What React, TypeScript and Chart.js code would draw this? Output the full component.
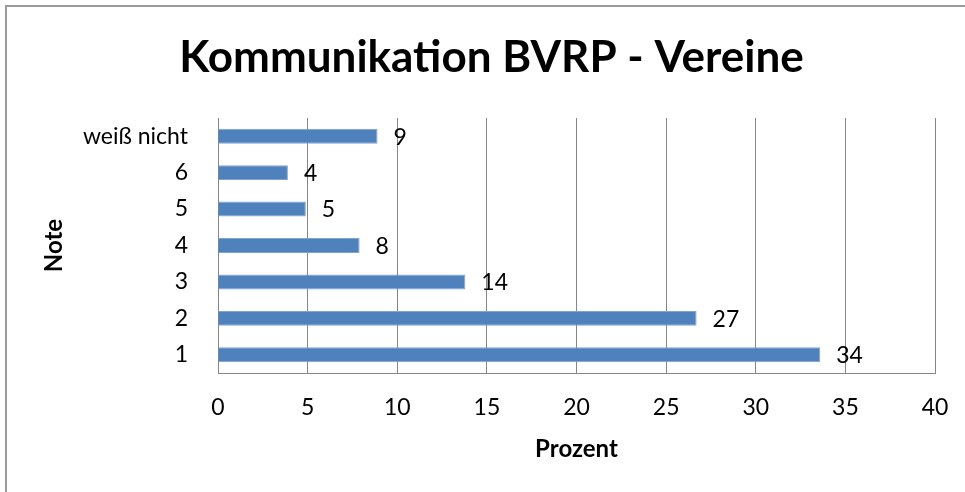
import React, { useEffect, useRef } from "react";
import { Chart, registerables } from "chart.js";

Chart.register(...registerables);

const categories = ["weiß nicht", "6", "5", "4", "3", "2", "1"];
const values = [8.9, 3.9, 4.9, 7.9, 13.8, 26.7, 33.6];
const valueLabels = ["9", "4", "5", "8", "14", "27", "34"];
const xTicks = [0, 5, 10, 15, 20, 25, 30, 35, 40];
const titleText = "Kommunikation BVRP - Vereine";
const xTitle = "Prozent";
const yTitle = "Note";

const FONT = "Lato";
const GRID = "#868686";

export default function App() {
  const ref = useRef<HTMLCanvasElement | null>(null);

  useEffect(() => {
    document.body.style.margin = "0";
    const canvas = ref.current;
    if (!canvas) return;

    const framePlugin = {
      id: "frame",
      beforeDraw(chart: any) {
        const ctx = chart.ctx;
        ctx.save();
        ctx.fillStyle = "#ffffff";
        ctx.fillRect(0, 0, chart.width, chart.height);
        ctx.strokeStyle = "#9a9a9a";
        ctx.lineWidth = 2;
        ctx.strokeRect(6, 6, chart.width + 20, chart.height + 20);
        ctx.fillStyle = "#000";
        ctx.font = `bold 44px ${FONT}`;
        ctx.textAlign = "center";
        ctx.textBaseline = "alphabetic";
        ctx.fillText(titleText, 491.5, 72);
        ctx.restore();
      },
    };

    const valuePlugin = {
      id: "values",
      afterDatasetsDraw(chart: any) {
        const ctx = chart.ctx;
        const meta = chart.getDatasetMeta(0);
        ctx.save();
        ctx.fillStyle = "#000";
        ctx.font = `23px ${FONT}`;
        ctx.textAlign = "left";
        ctx.textBaseline = "middle";
        meta.data.forEach((bar: any, i: number) => {
          ctx.fillText(valueLabels[i], bar.x + 16, bar.y + 1);
        });
        ctx.restore();
      },
    };

    const chart = new Chart(canvas, {
      type: "bar",
      data: {
        labels: categories,
        datasets: [
          {
            data: values,
            backgroundColor: "#4F81BD",
            borderColor: "#7FA3D0",
            borderWidth: 1,
            categoryPercentage: 1,
            barPercentage: 0.41,
          },
        ],
      },
      options: {
        indexAxis: "y",
        responsive: false,
        animation: false,
        layout: { padding: { top: 118, right: 30, left: 0, bottom: 0 } },
        plugins: {
          legend: { display: false },
          tooltip: { enabled: false },
          title: { display: false },
        },
        scales: {
          x: {
            min: 0,
            max: 40,
            afterFit(scale: any) {
              scale.height = 119;
              scale.paddingLeft = 0;
              scale.paddingRight = 0;
            },
            afterBuildTicks(scale: any) {
              scale.ticks = xTicks.map((v) => ({ value: v }));
            },
            grid: { display: true, color: GRID, lineWidth: 1, drawTicks: false },
            border: { display: true, color: GRID, width: 1 },
            ticks: {
              color: "#000",
              font: { family: FONT, size: 23 },
              padding: 21,
              maxRotation: 0,
            },
            title: {
              display: true,
              text: xTitle,
              color: "#000",
              font: { family: FONT, size: 24, weight: "bold" },
              padding: { top: 0, bottom: 28 },
            },
          },
          y: {
            afterFit(scale: any) {
              scale.width = 218;
              scale.paddingTop = 0;
              scale.paddingBottom = 0;
            },
            grid: { display: false, drawTicks: false },
            border: { display: true, color: GRID, width: 1 },
            ticks: {
              color: "#000",
              font: { family: FONT, size: 23 },
              padding: 30,
            },
            title: {
              display: true,
              text: yTitle,
              color: "#000",
              font: { family: FONT, size: 24, weight: "bold" },
              padding: { top: 40, bottom: 0 },
            },
          },
        },
      },
      plugins: [framePlugin, valuePlugin],
    } as any);

    return () => chart.destroy();
  }, []);

  return (
    <div style={{ width: 965, height: 492 }}>
      <canvas ref={ref} width={965} height={492} style={{ display: "block" }} />
    </div>
  );
}
